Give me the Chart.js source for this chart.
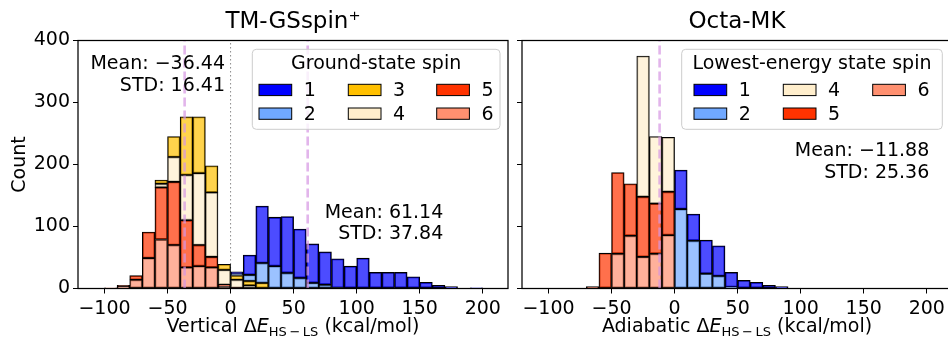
<!DOCTYPE html>
<html>
<head>
<meta charset="utf-8">
<title>Spin splitting histograms</title>
<script src="https://cdn.jsdelivr.net/npm/chart.js@4/dist/chart.umd.min.js"></script>
<style>
  html, body { margin: 0; padding: 0; background: #ffffff; overflow: hidden; }
  #page { position: relative; width: 948px; height: 339px; overflow: hidden; }
  #page canvas { position: absolute; top: 0; }
  #gsChart { left: 0; }
  #mkChart { left: 515px; }
</style>
</head>
<body>
<div id="page">
  <canvas id="gsChart" width="515" height="339"></canvas>
  <canvas id="mkChart" width="445" height="339"></canvas>
</div>
<script>
// bin centres in kcal/mol (10 kcal/mol bins, same for both panels)
const binCenters = [-95, -85, -75, -65, -55, -45, -35, -25, -15, -5,
                    5, 15, 25, 35, 45, 55, 65, 75, 85, 95,
                    105, 115, 125, 135, 145, 155, 165, 175, 185, 195];

// TM-GSspin+ : vertical dE(HS-LS), counts per ground-state spin
const gsSpin1 = [0, 0, 0, 0, 0, 0, 0, 0, 0, 0, 4, 32, 92, 79, 91, 79, 63, 53, 47, 36, 49, 26, 26, 26, 19, 10, 5, 3, 0, 1];
const gsSpin2 = [0, 0, 0, 0, 0, 0, 0, 0, 0, 0, 2, 10, 32, 36, 25, 17, 9, 6, 1, 0, 0, 0, 0, 0, 0, 0, 0, 0, 0, 0];
const gsSpin3 = [0, 0, 0, 0, 6, 33, 94, 91, 43, 9, 7, 7, 9, 0, 0, 0, 0, 0, 0, 0, 0, 0, 0, 0, 0, 0, 0, 0, 0, 0];
const gsSpin4 = [0, 0, 0, 0, 6, 40, 73, 116, 104, 24, 13, 5, 0, 0, 0, 0, 0, 0, 0, 0, 0, 0, 0, 0, 0, 0, 0, 0, 0, 0];
const gsSpin5 = [0, 2, 7, 42, 84, 102, 76, 34, 17, 2, 0, 0, 0, 0, 0, 0, 0, 0, 0, 0, 0, 0, 0, 0, 0, 0, 0, 0, 0, 0];
const gsSpin6 = [1, 3, 14, 49, 79, 70, 34, 36, 34, 4, 1, 0, 0, 0, 0, 0, 0, 0, 0, 0, 0, 0, 0, 0, 0, 0, 0, 0, 0, 0];
const gsMeans = [-36.44, 61.14];
const gsStds = [16.41, 37.84];

// Octa-MK : adiabatic dE(HS-LS), counts per lowest-energy state spin
const mkSpin1 = [0, 0, 0, 0, 0, 0, 0, 0, 0, 0, 63, 43, 54, 49, 24, 13, 10, 5, 3, 0, 0, 0, 0, 0, 0, 0, 0, 0, 0, 0];
const mkSpin2 = [0, 0, 0, 0, 0, 0, 0, 0, 0, 0, 128, 77, 24, 20, 2, 0, 0, 0, 0, 0, 0, 0, 0, 0, 0, 0, 0, 0, 0, 0];
const mkSpin4 = [0, 0, 0, 0, 0, 0, 0, 227, 108, 88, 0, 0, 0, 0, 0, 0, 0, 0, 0, 0, 0, 0, 0, 0, 0, 0, 0, 0, 0, 0];
const mkSpin5 = [0, 0, 0, 2, 57, 131, 84, 97, 81, 70, 0, 0, 0, 0, 0, 0, 0, 0, 0, 0, 0, 0, 0, 0, 0, 0, 0, 0, 0, 0];
const mkSpin6 = [0, 0, 0, 1, 0, 56, 85, 51, 56, 86, 0, 0, 0, 0, 0, 0, 0, 0, 0, 0, 0, 0, 0, 0, 0, 0, 0, 0, 0, 0];
const mkMeans = [-11.88];
const mkStds = [25.36];

// axes
const xTickStep = 50;
const yTicks = [0, 100, 200, 300, 400];
const xMin = -121, xMax = 220;

const FONT = '"DejaVu Sans", sans-serif';
const spinColors = { 1: '#0000ff', 2: '#70a8ff', 3: '#ffc000', 4: '#ffeecc', 5: '#ff3300', 6: '#ff9070' };
const meanColor = 'rgba(214, 150, 226, 0.7)';

function withAlpha(hex, a) {
    const n = parseInt(hex.slice(1), 16);
    return `rgba(${n >> 16}, ${(n >> 8) & 255}, ${n & 255}, ${a})`;
}

function minusSign(v) {
    return v < 0 ? '\u2212' + Math.abs(v) : String(v);
}

function fmt2(v) {
    return v < 0 ? '\u2212' + Math.abs(v).toFixed(2) : v.toFixed(2);
}

const panels = {
    gs: {
        title: 'TM-GSspin\u207A',
        xWord: 'Vertical',
        legendTitle: 'Ground-state spin',
        stackOrder: [6, 5, 4, 3, 2, 1],
        series: { 1: gsSpin1, 2: gsSpin2, 3: gsSpin3, 4: gsSpin4, 5: gsSpin5, 6: gsSpin6 },
        legendColumns: [[1, 2], [3, 4], [5, 6]],
        means: gsMeans,
        stds: gsStds,
        zeroLine: true,
        yLabels: true,
        padTop: 40.5, padRight: 7, yWidth: 78,
        legendBox: { x: 252.3, y: 49.3, w: 247.7, h: 80, cols: [6.7, 96, 184.4] },
        notes: [{ right: 225, y: 69 }, { right: 443.3, y: 217.5 }]
    },
    mk: {
        title: 'Octa-MK',
        xWord: 'Adiabatic',
        legendTitle: 'Lowest-energy state spin',
        stackOrder: [6, 5, 4, 2, 1],
        series: { 1: mkSpin1, 2: mkSpin2, 4: mkSpin4, 5: mkSpin5, 6: mkSpin6 },
        legendColumns: [[1, 2], [4, 5], [6]],
        means: mkMeans,
        stds: mkStds,
        zeroLine: false,
        yLabels: false,
        padTop: 40.5, padRight: 8, yWidth: 7,
        legendBox: { x: 166.7, y: 49.3, w: 260.6, h: 80, cols: [12.3, 101.6, 191] },
        notes: [{ right: 414.3, y: 156 }]
    }
};

function roundRectPath(ctx, x, y, w, h, r) {
    ctx.beginPath();
    ctx.moveTo(x + r, y);
    ctx.lineTo(x + w - r, y);
    ctx.quadraticCurveTo(x + w, y, x + w, y + r);
    ctx.lineTo(x + w, y + h - r);
    ctx.quadraticCurveTo(x + w, y + h, x + w - r, y + h);
    ctx.lineTo(x + r, y + h);
    ctx.quadraticCurveTo(x, y + h, x, y + h - r);
    ctx.lineTo(x, y + r);
    ctx.quadraticCurveTo(x, y, x + r, y);
    ctx.closePath();
}

// x-axis label with italic E and a lowered subscript
function drawXLabel(ctx, word, cx, y) {
    const parts = [
        [word + ' \u0394', `19px ${FONT}`, 0],
        ['E', `italic 19px ${FONT}`, 0],
        ['HS\u2009\u2212\u2009LS', `13px ${FONT}`, 4],
        [' (kcal/mol)', `19px ${FONT}`, 0]
    ];
    let total = 0;
    parts.forEach(p => { ctx.font = p[1]; total += ctx.measureText(p[0]).width; });
    let x = cx - total / 2;
    ctx.textAlign = 'left';
    ctx.textBaseline = 'alphabetic';
    parts.forEach(p => {
        ctx.font = p[1];
        ctx.fillText(p[0], x, y + p[2]);
        x += ctx.measureText(p[0]).width;
    });
}

const panelDecor = {
    id: 'panelDecor',
    afterDatasetsDraw(chart, args, opts) {
        const p = panels[opts.key];
        const ctx = chart.ctx, a = chart.chartArea;
        ctx.save();

        // axes frame
        ctx.strokeStyle = '#000';
        ctx.lineWidth = 1.25;
        ctx.strokeRect(a.left, a.top, a.right - a.left, a.bottom - a.top);

        // mean / std notes
        ctx.fillStyle = '#000';
        ctx.font = `19px ${FONT}`;
        ctx.textAlign = 'right';
        ctx.textBaseline = 'alphabetic';
        p.means.forEach((m, k) => {
            const n = p.notes[k];
            ctx.fillText('Mean: ' + fmt2(m), n.right, n.y);
            ctx.fillText('STD: ' + fmt2(p.stds[k]), n.right, n.y + 21.6);
        });

        // legend
        const b = p.legendBox;
        roundRectPath(ctx, b.x, b.y, b.w, b.h, 4);
        ctx.fillStyle = 'rgba(255, 255, 255, 0.8)';
        ctx.fill();
        ctx.strokeStyle = '#cccccc';
        ctx.lineWidth = 1;
        ctx.stroke();
        ctx.fillStyle = '#000';
        ctx.textAlign = 'center';
        ctx.textBaseline = 'middle';
        ctx.fillText(p.legendTitle, b.x + b.w / 2, b.y + 15);
        p.legendColumns.forEach((col, c) => {
            col.forEach((spin, r) => {
                const px = b.x + b.cols[c];
                const cy = b.y + 40.7 + r * 23.7;
                ctx.fillStyle = spinColors[spin];
                ctx.fillRect(px, cy - 5.7, 32.7, 11.3);
                ctx.strokeStyle = '#000';
                ctx.lineWidth = 1;
                ctx.strokeRect(px, cy - 5.7, 32.7, 11.3);
                ctx.fillStyle = '#000';
                ctx.textAlign = 'left';
                ctx.fillText(String(spin), px + 32.7 + 12, cy + 1);
            });
        });
        ctx.restore();
    },
    afterDraw(chart, args, opts) {
        const p = panels[opts.key];
        const ctx = chart.ctx, a = chart.chartArea;
        const cx = (a.left + a.right) / 2;
        ctx.save();
        ctx.fillStyle = '#000';
        ctx.font = `23px ${FONT}`;
        ctx.textAlign = 'center';
        ctx.textBaseline = 'alphabetic';
        ctx.fillText(p.title, cx, 28);
        drawXLabel(ctx, p.xWord, cx, 332);
        if (p.yLabels) {
            ctx.translate(20, (a.top + a.bottom) / 2);
            ctx.rotate(-Math.PI / 2);
            ctx.font = `19px ${FONT}`;
            ctx.textAlign = 'center';
            ctx.textBaseline = 'middle';
            ctx.fillText('Count', 0, 0);
        }
        ctx.restore();
    }
};

function buildChart(canvasId, key) {
    const p = panels[key];
    const datasets = p.stackOrder.map(s => ({
        type: 'bar',
        label: String(s),
        data: binCenters.map((x, i) => ({ x: x, y: p.series[s][i] })),
        backgroundColor: withAlpha(spinColors[s], 0.7),
        borderColor: '#000000',
        borderWidth: 1.1,
        borderSkipped: false,
        barPercentage: 1,
        categoryPercentage: 1,
        order: 1
    }));
    p.means.forEach((m, k) => {
        datasets.push({
            type: 'line',
            label: 'mean' + k,
            stack: 'mean' + k,
            data: [{ x: m, y: yTicks[0] }, { x: m, y: yTicks[yTicks.length - 1] }],
            borderColor: meanColor,
            borderWidth: 2.6,
            borderDash: [9, 4],
            pointRadius: 0,
            order: 0
        });
    });
    if (p.zeroLine) {
        datasets.push({
            type: 'line',
            label: 'zero',
            stack: 'zero',
            data: [{ x: 0, y: yTicks[0] }, { x: 0, y: yTicks[yTicks.length - 1] }],
            borderColor: '#8a8a8a',
            borderWidth: 1,
            borderDash: [1.5, 2.5],
            pointRadius: 0,
            order: 2
        });
    }

    return new Chart(document.getElementById(canvasId), {
        type: 'bar',
        data: { datasets: datasets },
        options: {
            responsive: false,
            animation: false,
            layout: { padding: { top: p.padTop, right: p.padRight, bottom: 0, left: 0 } },
            plugins: {
                legend: { display: false },
                tooltip: { enabled: false },
                panelDecor: { key: key }
            },
            scales: {
                x: {
                    type: 'linear',
                    stacked: true,
                    min: xMin,
                    max: xMax,
                    offset: false,
                    border: { display: false },
                    grid: { offset: false, drawOnChartArea: false, drawTicks: true, tickLength: 5, color: '#000' },
                    ticks: {
                        stepSize: xTickStep,
                        includeBounds: false,
                        autoSkip: false,
                        maxRotation: 0,
                        padding: 4,
                        color: '#000',
                        font: { family: FONT, size: 19 },
                        callback: v => minusSign(v)
                    },
                    afterFit: s => { s.height = 50.5; }
                },
                y: {
                    stacked: true,
                    min: yTicks[0],
                    max: yTicks[yTicks.length - 1],
                    border: { display: false },
                    grid: { drawOnChartArea: false, drawTicks: true, tickLength: 5, color: '#000' },
                    ticks: {
                        display: p.yLabels,
                        stepSize: yTicks[1] - yTicks[0],
                        padding: 3,
                        color: '#000',
                        font: { family: FONT, size: 19 }
                    },
                    afterFit: s => { s.width = p.yWidth; }
                }
            }
        },
        plugins: [panelDecor]
    });
}

document.addEventListener('DOMContentLoaded', function () {
    buildChart('gsChart', 'gs');
    buildChart('mkChart', 'mk');
});
</script>
</body>
</html>
